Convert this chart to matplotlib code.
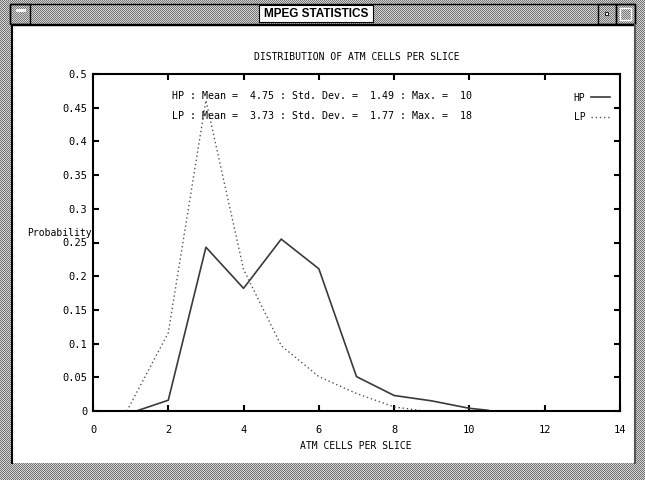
import matplotlib
matplotlib.use("Agg")
import matplotlib.pyplot as plt
import numpy as np
from matplotlib.patches import Rectangle

# data
hp_x = [1.15, 2, 3, 4, 5, 6, 7, 8, 9, 10, 10.5]
hp_y = [0.0, 0.016, 0.243, 0.182, 0.255, 0.211, 0.051, 0.023, 0.015, 0.004, 0.001]
lp_x = [0.9, 2, 3, 4, 5, 6, 7, 8, 8.8]
lp_y = [0.0, 0.116, 0.461, 0.21, 0.097, 0.051, 0.026, 0.006, 0.0]

x_ticks = [0, 2, 4, 6, 8, 10, 12, 14]
y_ticks = [0, 0.05, 0.1, 0.15, 0.2, 0.25, 0.3, 0.35, 0.4, 0.45, 0.5]
y_tick_labels = ["0", "0.05", "0.1", "0.15", "0.2", "0.25", "0.3", "0.35", "0.4", "0.45", "0.5"]

stat_names = ["HP", "LP"]
stat_means = [4.75, 3.73]
stat_sds = [1.49, 1.77]
stat_maxs = [10, 18]

W, H = 645, 480
mono = "DejaVu Sans Mono"

fig = plt.figure(figsize=(W / 100, H / 100), dpi=100)

# window decoration drawn in pixel coordinates
bg = fig.add_axes([0, 0, 1, 1], zorder=-1)
bg.set_xlim(0, W)
bg.set_ylim(H, 0)
bg.axis("off")
yy, xx = np.mgrid[0:H, 0:W]
checker = ((xx + yy) % 2).astype(float)
bg.imshow(checker, cmap="gray", vmin=-1.3, vmax=1.5, extent=(0, W, H, 0),
          interpolation="nearest", aspect="auto")

# client area
bg.add_patch(Rectangle((12, 25), 622, 438, facecolor="white", edgecolor="none"))
bg.plot([12, 12], [25, 463], color="black", lw=1.5)
bg.plot([12, 634], [25, 25], color="black", lw=1.0)
bg.plot([635, 635], [25, 463], color="#555555", lw=1.5)

# title bar
bg.add_patch(Rectangle((10, 4), 625, 20, facecolor="none", edgecolor="black", lw=1.0))
bg.add_patch(Rectangle((10, 4), 20, 20, facecolor="none", edgecolor="black", lw=1.0))
bg.plot([17, 24], [10, 10], color="white", lw=2)
bg.add_patch(Rectangle((598, 4), 18, 20, facecolor="none", edgecolor="black", lw=1.0))
bg.add_patch(Rectangle((605, 12), 3, 3, facecolor="white", edgecolor="black", lw=0.6))
bg.add_patch(Rectangle((616, 4), 19, 20, facecolor="none", edgecolor="black", lw=1.0))
bg.add_patch(Rectangle((620, 8), 11, 12, facecolor="none", edgecolor="white", lw=1.0))
bg.add_patch(Rectangle((259, 5), 114, 17, facecolor="white", edgecolor="black", lw=0.8))
bg.text(316, 14, "MPEG STATISTICS", ha="center", va="center",
        fontsize=8.5, fontweight="bold", family="Liberation Sans")

# plot area
ax = fig.add_axes([93 / W, 1 - 411 / H, 527 / W, 337 / H])
ax.plot(hp_x, hp_y, color="#3a3a3a", lw=1.2, label="HP")
ax.plot(lp_x, lp_y, color="#555555", lw=1.0, linestyle=(0, (1, 2)), label="LP")

ax.set_xlim(0, 14)
ax.set_ylim(0, 0.5)
ax.set_xticks(x_ticks)
ax.set_yticks(y_ticks)
ax.set_yticklabels(y_tick_labels)
for s in ax.spines.values():
    s.set_linewidth(1.5)
ax.tick_params(direction="in", length=4, width=1.5, top=True, right=True,
               labelsize=7.5)
ax.tick_params(axis="x", pad=10)
ax.tick_params(axis="y", pad=4)
for lab in ax.get_xticklabels() + ax.get_yticklabels():
    lab.set_family(mono)

for i, name in enumerate(stat_names):
    line = (f"{name} : Mean = {stat_means[i]:5.2f} : Std. Dev. = "
            f"{stat_sds[i]:5.2f} : Max. = {stat_maxs[i]:3d}")
    ax.text(0.15, 0.935 - 0.06 * i, line, transform=ax.transAxes,
            ha="left", va="center", fontsize=7.2, family=mono)

leg = ax.legend(loc="upper right", frameon=False, markerfirst=False,
                prop={"family": mono, "size": 7}, handlelength=1.9,
                handletextpad=0.6, labelspacing=0.95,
                bbox_to_anchor=(0.997, 0.97))

fig.text(357 / W, 1 - 57 / H, "DISTRIBUTION OF ATM CELLS PER SLICE",
         ha="center", va="center", fontsize=7, family=mono)
fig.text(356 / W, 1 - 446 / H, "ATM CELLS PER SLICE",
         ha="center", va="center", fontsize=7, family=mono)
fig.text(27 / W, 1 - 233 / H, "Probability",
         ha="left", va="center", fontsize=7, family=mono)

fig.savefig("out.png", dpi=100)
